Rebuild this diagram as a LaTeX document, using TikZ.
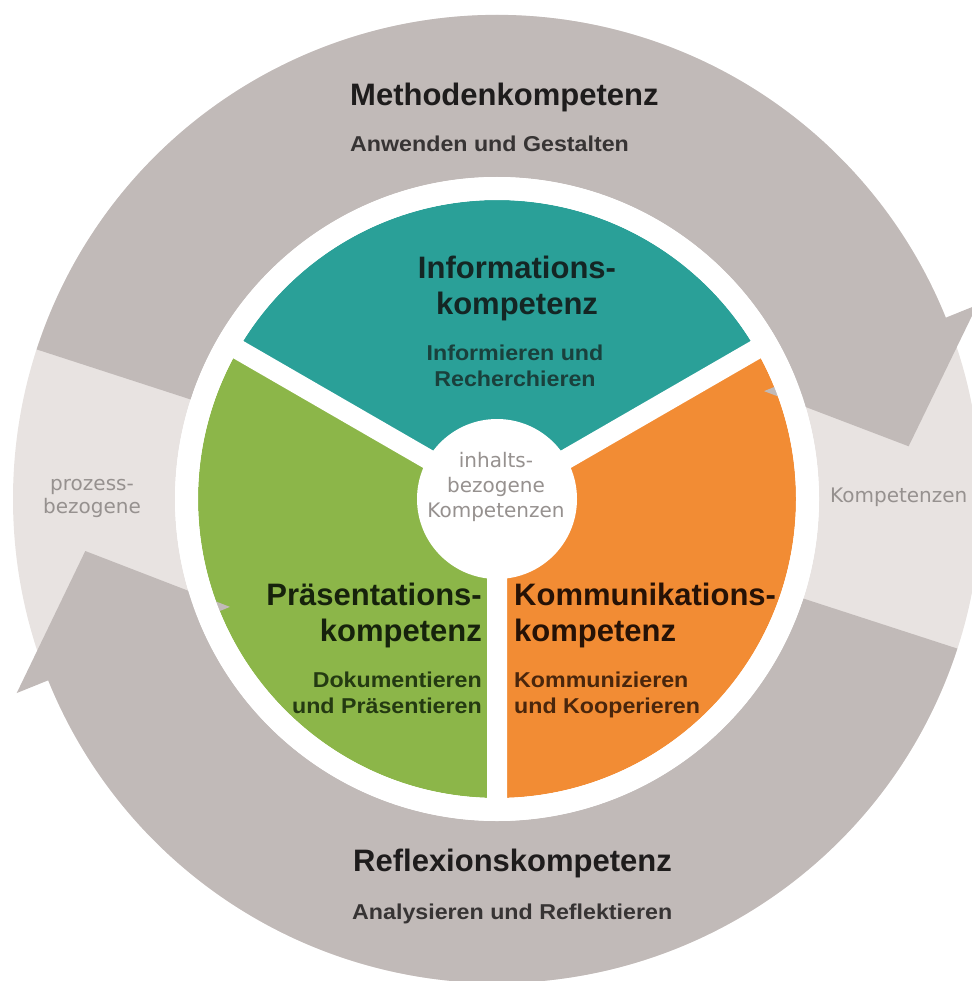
\documentclass[tikz,border=0pt]{standalone}
\usepackage{fontspec}
\setmainfont{Liberation Sans}
\newfontfamily\lblfont{DejaVu Sans}
\newfontfamily\widefont{Liberation Sans}[FakeStretch=1.08]
\definecolor{tealc}{RGB}{42,160,152}
\definecolor{greenc}{RGB}{140,182,73}
\definecolor{orangec}{RGB}{242,140,52}
\definecolor{arrowgray}{RGB}{193,186,184}
\definecolor{lightband}{RGB}{232,227,225}
\definecolor{lblgray}{RGB}{150,145,143}
\definecolor{darktxt}{RGB}{30,28,28}
\definecolor{darksub}{RGB}{55,52,52}
\definecolor{tealtitle}{RGB}{20,38,36}
\definecolor{tealsub}{RGB}{26,64,60}
\definecolor{greentitle}{RGB}{22,34,12}
\definecolor{greensub}{RGB}{36,58,18}
\definecolor{orangetitle}{RGB}{38,18,6}
\definecolor{orangesub}{RGB}{74,38,12}
\begin{document}
\begin{tikzpicture}[x=1pt,y=-1pt,
  bigtitle/.style={font=\fontsize{31}{36}\selectfont\bfseries, inner sep=0pt},
  subline/.style={font=\widefont\fontsize{21.5}{26}\selectfont\bfseries, inner sep=0pt},
  graylbl/.style={font=\lblfont\fontsize{20}{24}\selectfont, text=lblgray, inner sep=0pt}]
\path[use as bounding box] (0,0) rectangle (971,981);
\begin{scope}[shift={(497,499)}]
  % light background ring
  \fill[lightband, even odd rule] (0,0) circle[radius=484] (0,0) circle[radius=322];
  % pie sectors
  \fill[tealc] (0,0) -- (-150:299) arc[start angle=-150, end angle=-30, radius=299] -- cycle;
  \fill[orangec] (0,0) -- (-30:299) arc[start angle=-30, end angle=90, radius=299] -- cycle;
  \fill[greenc] (0,0) -- (90:299) arc[start angle=90, end angle=210, radius=299] -- cycle;
  % separators
  \draw[white, line width=20] (0,0) -- (90:330) (0,0) -- (-30:330) (0,0) -- (-150:330);
  \fill[white] (0,0) circle[radius=80];
  % upper arrow (Methodenkompetenz)
  \fill[arrowgray] (-162:484) arc[start angle=-162, end angle=-22, radius=484]
     -- (-22:518) -- (-7.3:415) -- (-22:288) -- (-22:322)
     arc[start angle=-22, end angle=-162, radius=322] -- cycle;
  % lower arrow (Reflexionskompetenz)
  \fill[arrowgray] (18:484) arc[start angle=18, end angle=158, radius=484]
     -- (158:518) -- (172.8:415) -- (158:288) -- (158:322)
     arc[start angle=158, end angle=18, radius=322] -- cycle;
  % white ring round the pie
  \draw[white, line width=23] (0,0) circle[radius=310.5];
\end{scope}
% outer texts
\node[bigtitle, text=darktxt, anchor=base west] (meth) at (350,106) {Methodenkompetenz};
\node[subline, text=darksub, anchor=base west] (methsub) at (350,152) {Anwenden und Gestalten};
\node[bigtitle, text=darktxt, anchor=base west] (refl) at (353,871) {Reflexionskompetenz};
\node[subline, text=darksub, anchor=base west] (reflsub) at (352,919) {Analysieren und Reflektieren};
% gray labels
\node[graylbl, anchor=base] (proz1) at (92,490) {prozess-};
\node[graylbl, anchor=base] (proz2) at (92,513) {bezogene};
\node[graylbl, anchor=base west] (komp) at (830,502) {Kompetenzen};
\node[graylbl, anchor=base] (inh1) at (496,467) {inhalts-};
\node[graylbl, anchor=base] (inh2) at (496,492) {bezogene};
\node[graylbl, anchor=base] (inh3) at (496,517) {Kompetenzen};
% teal sector
\node[bigtitle, text=tealtitle, anchor=base] (info1) at (517,279) {Informations-};
\node[bigtitle, text=tealtitle, anchor=base] (info2) at (517,314) {kompetenz};
\node[subline, text=tealsub, anchor=base] (info3) at (515,360) {Informieren und};
\node[subline, text=tealsub, anchor=base] (info4) at (515,386) {Recherchieren};
% green sector
\node[bigtitle, text=greentitle, anchor=base east] (praes1) at (482,605) {Präsentations-};
\node[bigtitle, text=greentitle, anchor=base east] (praes2) at (482,641) {kompetenz};
\node[subline, text=greensub, anchor=base east] (praes3) at (482,687) {Dokumentieren};
\node[subline, text=greensub, anchor=base east] (praes4) at (482,713) {und Präsentieren};
% orange sector
\node[bigtitle, text=orangetitle, anchor=base west] (komm1) at (514,605) {Kommunikations-};
\node[bigtitle, text=orangetitle, anchor=base west] (komm2) at (514,641) {kompetenz};
\node[subline, text=orangesub, anchor=base west] (komm3) at (514,687) {Kommunizieren};
\node[subline, text=orangesub, anchor=base west] (komm4) at (514,713) {und Kooperieren};
\end{tikzpicture}
\end{document}
